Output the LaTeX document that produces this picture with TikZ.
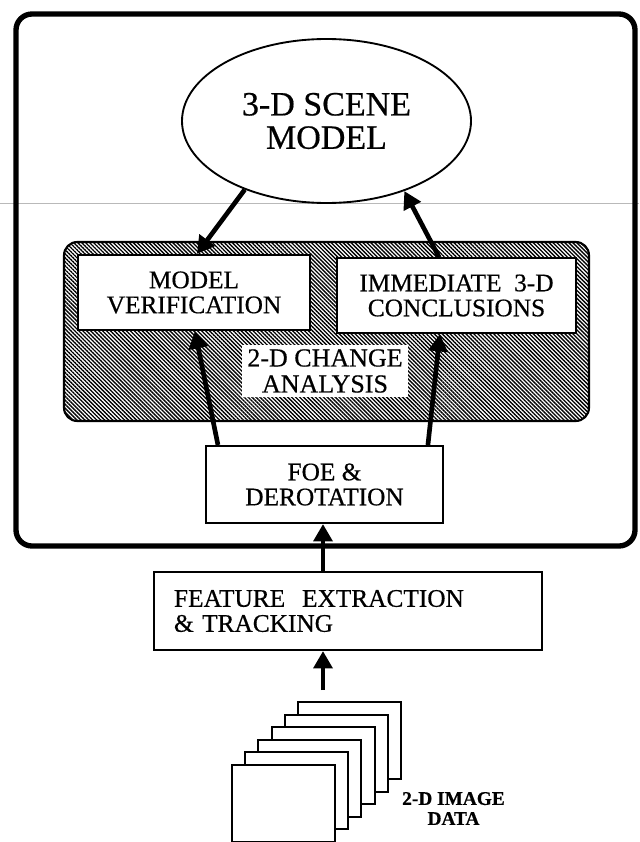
\documentclass[tikz,border=0pt]{standalone}
\usepackage{fontspec}
\setmainfont{Liberation Serif}[FakeBold=0.5]
\usetikzlibrary{shapes.geometric,arrows.meta,patterns.meta}
\begin{document}
\begin{tikzpicture}[x=0.75pt,y=-0.75pt,
  box/.style={draw,line width=1.6pt,fill=white,inner sep=0pt,align=center,
    font=\fontsize{19}{18.75}\selectfont},
  arr/.style={line width=3.5pt,-{Triangle[length=13pt,width=14pt]}},
  sheet/.style={draw,line width=1.6pt,fill=white}]
\useasboundingbox (0,0) rectangle (639,842);
% scan line
\draw[gray!55,line width=0.5pt] (0,203) -- (639,203);
% outer frame
\draw[line width=4pt,rounded corners=12pt] (16,14) rectangle (635,546);
% hatched region
\node[draw,line width=1.6pt,rounded corners=10pt,
  pattern={Lines[angle=-45,distance=2.1pt,line width=1pt]},
  minimum width=393.75pt,minimum height=134.25pt,inner sep=0pt] (hatch) at (326.5,331.5) {};
% ellipse
\node[ellipse,draw,line width=1.4pt,fill=white,minimum width=216.75pt,minimum height=123pt,
  inner sep=0pt,align=center,font=\fontsize{25.5}{25}\selectfont] (scene) at (326.5,121)
  {3-D SCENE\\MODEL};
% boxes
\node[box,minimum width=174pt,minimum height=56.25pt] (mv) at (194,292.5) {MODEL\\VERIFICATION};
\node[box,minimum width=179.25pt,minimum height=56.25pt] (ic) at (456.5,295.5) {IMMEDIATE\ \ 3-D\\CONCLUSIONS};
\node[fill=white,inner xsep=4pt,inner ysep=3pt,align=center,
  font=\fontsize{19.5}{19.5}\selectfont] (cha) at (325,371) {2-D CHANGE\\ANALYSIS};
\node[box,minimum width=177.75pt,minimum height=57.75pt] (foe) at (324.5,484.5) {FOE \&\\DEROTATION};
\node[box,align=left,text width=261pt,inner xsep=15pt,minimum height=58.5pt] (feat) at (348,611)
  {FEATURE\ \ EXTRACTION\\\& TRACKING};
% image stack
\foreach \i in {5,4,...,0}
  \draw[sheet] ({232+13.2*\i},{765-12.6*\i}) rectangle ++(103,77);
\coordinate (stacktop) at (323,690);
\node[align=center,font=\bfseries\fontsize{14.5}{15}\selectfont] (data) at (453.5,808.5) {2-D IMAGE\\DATA};
% arrows
\draw[arr] (scene.220) -- ([xshift=90pt]mv.north west);
\draw[arr] ([xshift=77.25pt]ic.north west) -- (scene.318);
\draw[arr] ([xshift=9.75pt]foe.north west) -- ([xshift=88.5pt]mv.south west);
\draw[arr] ([xshift=167.25pt]foe.north west) -- ([xshift=78pt]ic.south west);
\draw[arr] (feat.north -| stacktop) -- (foe.south -| stacktop);
\draw[arr] (stacktop) -- (stacktop |- feat.south);
\end{tikzpicture}
\end{document}
